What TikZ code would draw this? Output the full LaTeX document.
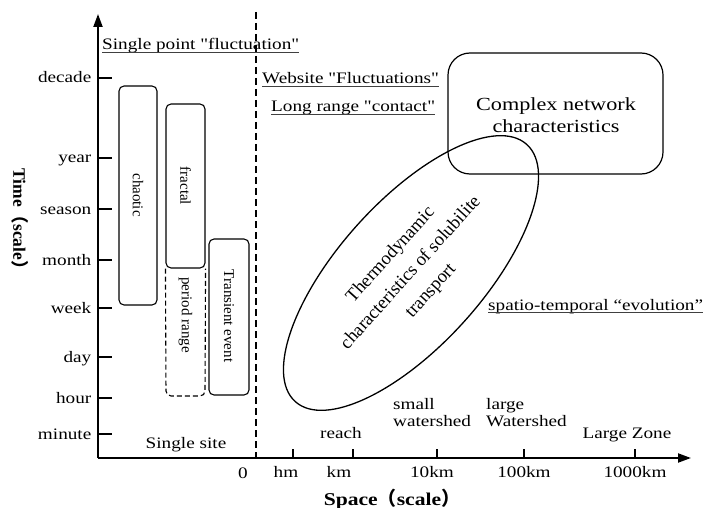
\documentclass[tikz,border=0pt]{standalone}
\usepackage{fontspec}
\setmainfont[FakeStretch=1.2, Ligatures=TeXOff]{Liberation Serif}
\newfontfamily\plainrm[Ligatures=TeXOff]{Liberation Serif}
\newfontfamily\cjk{Noto Sans CJK SC}
\usetikzlibrary{arrows.meta,shapes.geometric}
\begin{document}
\begin{tikzpicture}[x=1pt,y=-1pt,
  lab/.style={inner sep=0pt, font=\fontsize{16}{17}\selectfont},
  axisline/.style={line width=2pt, -{Triangle[length=13pt,width=9pt]}},
  tickline/.style={line width=1.3pt},
  bar/.style={draw, line width=1.1pt, rounded corners=5pt, inner sep=0pt},
  bartext/.style={rotate=-90, inner sep=0pt, font=\plainrm\fontsize{15}{17}\selectfont},
  ulline/.style={line width=0.8pt, black!75},
  divider/.style={line width=1.2pt, dash pattern=on 7pt off 4pt}]
\useasboundingbox (0,0) rectangle (707,508);

% axes
\coordinate (O) at (98,458);
\coordinate (ytop) at (98,14);
\coordinate (xend) at (691,458);
\draw[axisline] (O) -- (ytop);
\draw[axisline] (O) -- (xend);

% time ticks
\foreach \lbl/\yy in {decade/78, year/158, season/209, month/260, week/308, day/357, hour/398, minute/434} {
  \draw[tickline] (98,\yy) -- (112,\yy);
  \node[lab, anchor=base east] (t-\lbl) at (91.5,\yy+5) {\lbl};
}

% space ticks
\foreach \xx in {293,353,437,524,635} {
  \draw[tickline] (\xx,449) -- (\xx,458);
}
\node[lab, anchor=base] (x0) at (243,478) {0};
\node[lab, anchor=base] (xhm) at (286,477) {hm};
\node[lab, anchor=base] (xkm) at (339,477) {km};
\node[lab, anchor=base] (x10) at (432,477) {10km};
\node[lab, anchor=base] (x100) at (524,477) {100km};
\node[lab, anchor=base] (x1000) at (635,477) {1000km};

% dashed divider
\coordinate (dtop) at (256,12);
\coordinate (dbot) at (256,461);
\draw[divider] (dtop) -- (dbot);

% region labels above x axis
\node[lab, anchor=base] (reach) at (341,438) {reach};
\node[lab, anchor=base west, align=left] (smallws) at (393,426) {small\\watershed};
\node[lab, anchor=base west, align=left] (largews) at (486,426) {large\\Watershed};
\node[lab, anchor=base] (zone) at (627,438) {Large Zone};
\node[lab, anchor=base] (site) at (186,448) {Single site};

% axis titles
\node[inner sep=0pt, anchor=base, font=\bfseries\fontsize{18}{19}\selectfont] (xtitle) at (392,505) {Space{\cjk\fontsize{19}{19}\selectfont （}scale{\cjk\fontsize{19}{19}\selectfont ）}};
\node[inner sep=0pt, rotate=-90, font=\plainrm\bfseries\fontsize{17.5}{19}\selectfont] (ytitle) at (20,223) {Time{\cjk （}scale{\cjk ）}};

% bars
\node[bar, minimum width=38pt, minimum height=219pt] (chaoticbox) at (138,195.5) {};
\node[bartext] (chaotic) at (138,195) {chaotic};
\node[bar, minimum width=39pt, minimum height=164pt] (fractalbox) at (185.5,186) {};
\node[bartext] (fractal) at (185.5,186) {fractal};
\draw[line width=1.1pt, dash pattern=on 5pt off 3pt, rounded corners=5pt]
  (fractalbox.south west) -- (166,396) -- (205,396) -- (fractalbox.south east);
\node[bartext] (period) at (185.5,315) {period range};
\node[bar, minimum width=40pt, minimum height=156pt] (transbox) at (229,317) {};
\node[bartext] (transient) at (229,316) {Transient event};

% underlined labels
\node[lab, anchor=base west] (spf) at (102,50) {Single point "fluctuation"};
\draw[ulline] ([yshift=-2.5pt]spf.base west) -- ([yshift=-2.5pt]spf.base east);
\node[lab, anchor=base west] (wsf) at (262,83.5) {Website "Fluctuations"};
\draw[ulline] ([yshift=-2.5pt]wsf.base west) -- ([yshift=-2.5pt]wsf.base east);
\node[lab, anchor=base west] (lrc) at (271,111.5) {Long range "contact"};
\draw[ulline] ([yshift=-2.5pt]lrc.base west) -- ([yshift=-2.5pt]lrc.base east);
\node[lab, anchor=base west] (ste) at (488,310) {spatio-temporal “evolution”};
\draw[ulline] ([yshift=-2.5pt]ste.base west) -- ([yshift=-2.5pt]ste.base east);

% complex network box
\node[draw, line width=1.2pt, rounded corners=22pt, minimum width=215pt, minimum height=121pt] (cnbox) at (555.5,113.5) {};
\node[inner sep=0pt, align=center, font=\fontsize{18.5}{21.5}\selectfont] (cn) at (556,115) {Complex network\\characteristics};

% ellipse
\node[draw, ellipse, line width=1.3pt, rotate=48, minimum width=346pt, minimum height=144pt, inner sep=0pt, align=center, font=\plainrm\fontsize{18.5}{27}\selectfont] (thermo) at (411,273) {Thermodynamic\\characteristics of solubilite\\transport};
\end{tikzpicture}
\end{document}
